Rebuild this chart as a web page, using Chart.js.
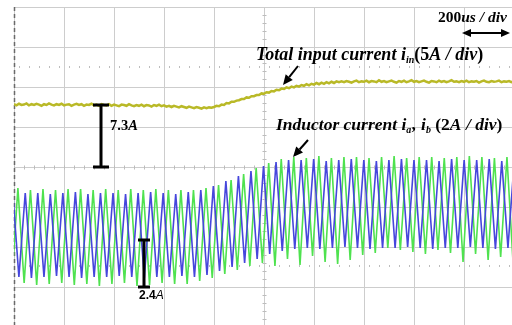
<!DOCTYPE html>
<html>
<head>
<meta charset="utf-8">
<script src="https://cdn.jsdelivr.net/npm/chart.js@4.4.1/dist/chart.umd.min.js"></script>
<style>
  html, body { margin: 0; padding: 0; background: #fff; overflow: hidden; }
  #scope { display: block; }
</style>
</head>
<body>
<canvas id="scope" width="530" height="335"></canvas>
<script>
// scope screen: 10 div x 200us, 8 div vertical (values below are in divisions)
const periodUs = 50.16;

// input current i_in, one sample every 10us
const inputStepUs = 10;
const inputCurrent = [
  1.57, 1.54, 1.58, 1.55, 1.56, 1.59, 1.54, 1.57, 1.55, 1.58,
  1.56, 1.53, 1.57, 1.55, 1.59, 1.56, 1.54, 1.57, 1.55, 1.58,
  1.54, 1.56, 1.57, 1.53, 1.56, 1.58, 1.55, 1.57, 1.53, 1.56,
  1.55, 1.58, 1.54, 1.56, 1.53, 1.57, 1.55, 1.54, 1.57, 1.53,
  1.56, 1.54, 1.52, 1.56, 1.55, 1.53, 1.57, 1.54, 1.52, 1.55,
  1.53, 1.56, 1.52, 1.55, 1.54, 1.51, 1.55, 1.53, 1.56, 1.52,
  1.54, 1.51, 1.53, 1.50, 1.53, 1.51, 1.49, 1.52, 1.50, 1.48,
  1.51, 1.49, 1.47, 1.50, 1.48, 1.46, 1.49, 1.47, 1.49, 1.48,
  1.50, 1.53, 1.52, 1.56, 1.55, 1.60, 1.59, 1.63, 1.63, 1.66,
  1.67, 1.70, 1.70, 1.74, 1.73, 1.77, 1.77, 1.80, 1.80, 1.84,
  1.83, 1.87, 1.86, 1.90, 1.89, 1.93, 1.92, 1.96, 1.95, 1.99,
  1.97, 2.01, 1.99, 2.03, 2.01, 2.05, 2.03, 2.07, 2.04, 2.08,
  2.06, 2.10, 2.07, 2.11, 2.08, 2.12, 2.09, 2.13, 2.10, 2.14,
  2.12, 2.14, 2.12, 2.15, 2.13, 2.11, 2.14, 2.16, 2.12, 2.14,
  2.13, 2.16, 2.12, 2.15, 2.14, 2.12, 2.17, 2.13, 2.15, 2.12,
  2.14, 2.16, 2.13, 2.11, 2.15, 2.13, 2.16, 2.12, 2.14, 2.17,
  2.13, 2.15, 2.12, 2.14, 2.16, 2.13, 2.11, 2.15, 2.14, 2.12,
  2.16, 2.13, 2.15, 2.12, 2.14, 2.17, 2.13, 2.14, 2.12, 2.15,
  2.13, 2.16, 2.12, 2.14, 2.13, 2.15, 2.11, 2.14, 2.16, 2.13,
  2.12, 2.15, 2.13, 2.14, 2.16, 2.12, 2.14, 2.13, 2.15, 2.12, 2.14
];

// inductor current i_a (blue): peaks and valleys of each switching period
const iaPeakStartUs = -5.2;
const iaValleyStartUs = 19.6;
const iaPeaks = [
  -0.625, -0.65, -0.65, -0.675, -0.65, -0.625, -0.675, -0.65, -0.65, -0.675,
  -0.65, -0.625, -0.65, -0.675, -0.625, -0.575, -0.475, -0.35, -0.225, -0.1,
  0.025, 0.125, 0.175, 0.175, 0.2, 0.15, 0.175, 0.2, 0.175, 0.15,
  0.175, 0.2, 0.175, 0.175, 0.15, 0.2, 0.175, 0.175, 0.2, 0.15, 0.175
];
const iaValleys = [
  -2.75, -2.775, -2.75, -2.725, -2.75, -2.775, -2.75, -2.75, -2.725, -2.75,
  -2.775, -2.75, -2.75, -2.725, -2.75, -2.7, -2.6, -2.5, -2.4, -2.3,
  -2.175, -2.1, -2.05, -2.025, -2.05, -2.025, -2.0, -2.025, -2.05, -2.025,
  -2.025, -2.0, -2.025, -2.05, -2.025, -2.025, -2.0, -2.025, -2.05, -2.025, -2.025
];

// inductor current i_b (green)
const ibValleyStartUs = -9.6;
const ibPeakStartUs = 15.6;
const ibPeaks = [
  -0.525, -0.575, -0.55, -0.575, -0.55, -0.55, -0.575, -0.55, -0.575, -0.55,
  -0.575, -0.55, -0.575, -0.575, -0.575, -0.525, -0.45, -0.325, -0.175, -0.025,
  0.1, 0.2, 0.25, 0.225, 0.275, 0.225, 0.25, 0.25, 0.225, 0.25,
  0.275, 0.225, 0.25, 0.25, 0.225, 0.25, 0.275, 0.25, 0.225, 0.25, 0.25
];
const ibValleys = [
  -2.925, -2.9, -2.95, -2.925, -2.9, -2.95, -2.925, -2.975, -2.925, -2.9,
  -2.975, -2.95, -2.9, -2.925, -2.925, -2.85, -2.775, -2.675, -2.575, -2.475,
  -2.4, -2.475, -2.3, -2.45, -2.225, -2.375, -2.425, -2.325, -2.2, -2.15,
  -2.025, -2.075, -2.125, -2.175, -2.075, -2.15, -2.375, -2.175, -2.325, -2.25, -2.45
];

const gridColor = '#cdcdcd';

function inputPoints() {
  return inputCurrent.map((v, i) => ({ x: i * inputStepUs, y: v }));
}

function triangle(firstVals, firstStart, secondVals, secondStart) {
  const pts = [];
  for (let i = 0; i < firstVals.length; i++) {
    pts.push({ x: firstStart + i * periodUs, y: firstVals[i] });
    if (i < secondVals.length) pts.push({ x: secondStart + i * periodUs, y: secondVals[i] });
  }
  return pts;
}

function drawRuns(ctx, x, y, runs) {
  runs.forEach(r => {
    ctx.font = r.f;
    ctx.fillText(r.t, x, y + (r.dy || 0));
    x += ctx.measureText(r.t).width + (r.gap || 0);
  });
}

function arrow(ctx, x1, y1, x2, y2, head) {
  const a = Math.atan2(y2 - y1, x2 - x1);
  ctx.beginPath();
  ctx.moveTo(x1, y1);
  ctx.lineTo(x2 - Math.cos(a) * head, y2 - Math.sin(a) * head);
  ctx.stroke();
  ctx.beginPath();
  ctx.moveTo(x2, y2);
  ctx.lineTo(x2 - Math.cos(a) * head + Math.sin(a) * head * 0.45, y2 - Math.sin(a) * head - Math.cos(a) * head * 0.45);
  ctx.lineTo(x2 - Math.cos(a) * head - Math.sin(a) * head * 0.45, y2 - Math.sin(a) * head + Math.cos(a) * head * 0.45);
  ctx.closePath();
  ctx.fill();
}

function bar(ctx, x, yTop, yBot, half) {
  ctx.beginPath();
  ctx.moveTo(x, yTop); ctx.lineTo(x, yBot);
  ctx.moveTo(x - half, yTop); ctx.lineTo(x + half, yTop);
  ctx.moveTo(x - half, yBot); ctx.lineTo(x + half, yBot);
  ctx.stroke();
}

// scope frame decorations: center-line ticks, dashed left edge
const scopeFrame = {
  id: 'scopeFrame',
  beforeDatasetsDraw(chart) {
    const { ctx, chartArea: a, scales: { x, y } } = chart;
    ctx.save();
    ctx.strokeStyle = '#bdbdbd';
    ctx.lineWidth = 1;
    const cx = Math.round(x.getPixelForValue(1000)) + 0.5;
    const cy = Math.round(y.getPixelForValue(0)) + 0.5;
    ctx.beginPath();
    for (let t = 0; t <= 2000; t += 40) {
      const px = Math.round(x.getPixelForValue(t)) + 0.5;
      ctx.moveTo(px, cy - 2); ctx.lineTo(px, cy + 2);
    }
    for (let v = -4; v <= 4; v += 0.2) {
      const py = Math.round(y.getPixelForValue(v)) + 0.5;
      ctx.moveTo(cx - 2, py); ctx.lineTo(cx + 2, py);
    }
    ctx.stroke();
    // dotted reference rows
    ctx.setLineDash([1, 9]);
    ctx.lineWidth = 2;
    [2.5, -2.475].forEach(v => {
      const py = Math.round(y.getPixelForValue(v));
      ctx.beginPath();
      ctx.moveTo(a.left + 5, py); ctx.lineTo(a.right, py);
      ctx.stroke();
    });
    // left edge
    ctx.setLineDash([4, 3]);
    ctx.lineWidth = 1.5;
    ctx.strokeStyle = '#6a6a6a';
    ctx.beginPath();
    ctx.moveTo(a.left + 0.5, a.top); ctx.lineTo(a.left + 0.5, a.bottom);
    ctx.stroke();
    ctx.restore();
  },
  afterDatasetsDraw(chart) {
    const { ctx, scales: { x, y } } = chart;
    ctx.save();
    ctx.fillStyle = '#000';
    ctx.strokeStyle = '#000';
    ctx.textBaseline = 'alphabetic';

    // 7.3A offset marker
    ctx.lineWidth = 3;
    const bx1 = x.getPixelForValue(348);
    bar(ctx, bx1, y.getPixelForValue(1.55), y.getPixelForValue(0), 8);
    drawRuns(ctx, bx1 + 9, y.getPixelForValue(0.93), [
      { t: '7.3', f: 'bold 14.5px "Liberation Serif"' },
      { t: 'A', f: 'bold italic 14.5px "Liberation Serif"' }
    ]);

    // 2.4A ripple marker
    const bx2 = x.getPixelForValue(520);
    bar(ctx, bx2, y.getPixelForValue(-1.825), y.getPixelForValue(-3.0), 6);
    drawRuns(ctx, bx2 - 5, y.getPixelForValue(-3.3), [
      { t: '2.4', f: 'bold 12px "Liberation Sans"' },
      { t: 'A', f: 'italic 12px "Liberation Sans"' }
    ]);

    // time base
    drawRuns(ctx, 438, 22, [
      { t: '200', f: 'bold 15.5px "Liberation Serif"' },
      { t: 'us / div', f: 'bold italic 15.5px "Liberation Serif"' }
    ]);
    ctx.lineWidth = 2;
    arrow(ctx, 486, 33, 510, 33, 9);
    arrow(ctx, 486, 33, 462, 33, 9);

    const BI = 'bold italic 18px "Liberation Serif"';
    const B = 'bold 18px "Liberation Serif"';
    const SUB = 'bold italic 10px "Liberation Serif"';
    drawRuns(ctx, 256, 60, [
      { t: 'Total input current i', f: BI },
      { t: 'in', f: SUB, dy: 3 },
      { t: '(5', f: B },
      { t: 'A / div', f: BI },
      { t: ')', f: B }
    ]);
    const BI2 = 'bold italic 17.5px "Liberation Serif"';
    const B2 = 'bold 17.5px "Liberation Serif"';
    drawRuns(ctx, 276, 130, [
      { t: 'Inductor current i', f: BI2 },
      { t: 'a', f: SUB, dy: 3, gap: 1 },
      { t: ', i', f: BI2 },
      { t: 'b', f: SUB, dy: 3 },
      { t: ' (2', f: B2 },
      { t: 'A / div', f: BI2 },
      { t: ')', f: B2 }
    ]);
    ctx.lineWidth = 2;
    arrow(ctx, 298, 66, 283, 85, 10);
    arrow(ctx, 308, 140, 293, 157, 10);
    ctx.restore();
  }
};

new Chart(document.getElementById('scope'), {
  type: 'line',
  data: {
    datasets: [
      {
        label: 'i_in',
        data: inputPoints(),
        borderColor: '#b9b927',
        borderWidth: 2.5,
        pointRadius: 0,
        tension: 0
      },
      {
        label: 'i_a',
        data: triangle(iaPeaks, iaPeakStartUs, iaValleys, iaValleyStartUs),
        borderColor: '#4646dc',
        borderWidth: 1.6,
        pointRadius: 0,
        tension: 0
      },
      {
        label: 'i_b',
        data: triangle(ibValleys, ibValleyStartUs, ibPeaks, ibPeakStartUs),
        borderColor: '#4fe24f',
        borderWidth: 1.6,
        pointRadius: 0,
        tension: 0
      }
    ]
  },
  options: {
    responsive: false,
    animation: false,
    devicePixelRatio: 1,
    layout: { padding: { left: 14, top: 7, right: 16, bottom: 8 } },
    plugins: { legend: { display: false }, tooltip: { enabled: false } },
    scales: {
      x: {
        type: 'linear', min: 0, max: 2000,
        ticks: { display: false, stepSize: 200 },
        grid: { color: gridColor, drawTicks: false },
        border: { display: false }
      },
      y: {
        type: 'linear', min: -4, max: 4,
        ticks: { display: false, stepSize: 1 },
        grid: { color: gridColor, drawTicks: false },
        border: { display: false }
      }
    }
  },
  plugins: [scopeFrame]
});
</script>
</body>
</html>
